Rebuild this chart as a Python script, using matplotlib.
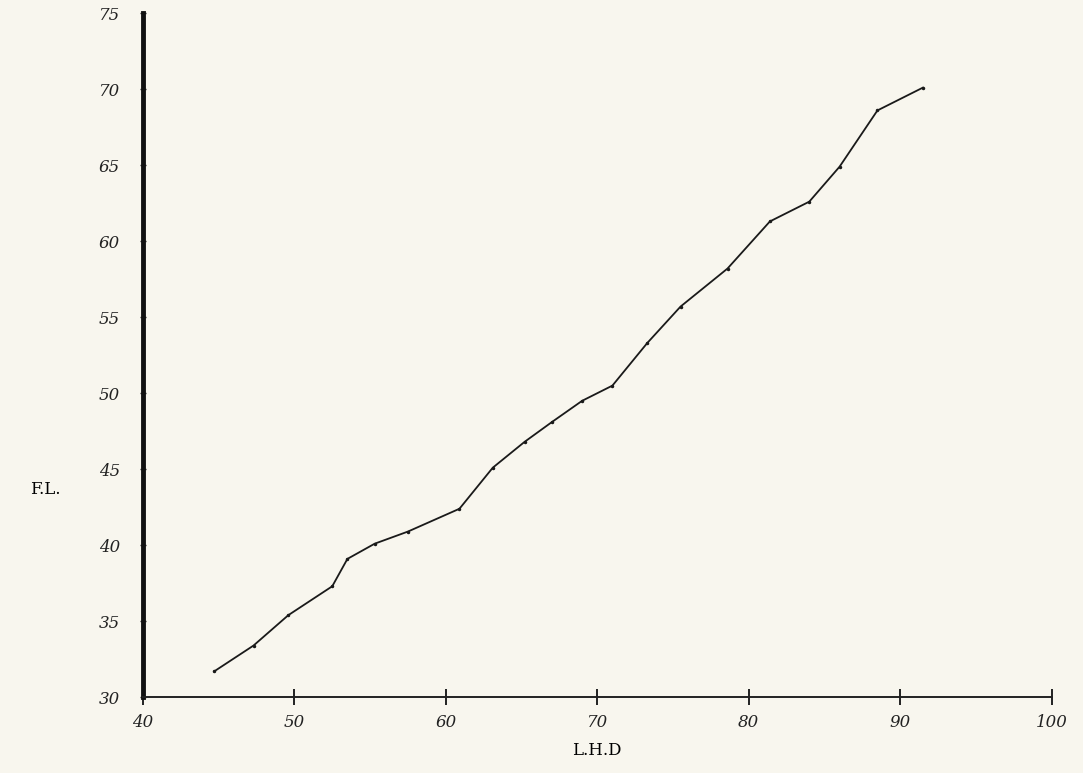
import matplotlib
matplotlib.use("Agg")
import matplotlib.pyplot as plt

lhd = [44.7, 47.3, 49.6, 52.5, 53.5, 55.3, 57.5, 60.9, 63.1, 65.2, 67.0, 69.0, 71.0, 73.3, 75.5, 78.6, 81.4, 84.0, 86.0, 88.5, 91.5]
fl = [31.7, 33.4, 35.4, 37.3, 39.1, 40.1, 40.9, 42.4, 45.1, 46.8, 48.1, 49.5, 50.5, 53.3, 55.7, 58.2, 61.3, 62.6, 64.9, 68.6, 70.1]

xticks = [40, 50, 60, 70, 80, 90, 100]
yticks = [30, 35, 40, 45, 50, 55, 60, 65, 70, 75]

bg = '#f8f6ee'
fig = plt.figure(figsize=(10.83, 7.73), dpi=100, facecolor=bg)
ax = fig.add_axes([0.132, 0.098, 0.839, 0.885], facecolor=bg)

ax.plot(lhd, fl, color='#1a1a1a', lw=1.3, marker='o', ms=1.5)

ax.set_xlim(40, 100)
ax.set_ylim(30, 75)
ax.set_xticks(xticks)
ax.set_yticks(yticks)

for s in ['top', 'right']:
    ax.spines[s].set_visible(False)
ax.spines['left'].set_linewidth(3.5)
ax.spines['left'].set_color('#111111')
ax.spines['bottom'].set_linewidth(1.4)
ax.spines['bottom'].set_color('#222222')

tick_font = dict(family='DejaVu Serif', style='italic', size=12)
ax.set_xticklabels([str(t) for t in xticks], **tick_font)
ax.set_yticklabels([str(t) for t in yticks], **tick_font)
ax.tick_params(axis='x', direction='inout', length=12, width=1.4, pad=6, colors='#222222')
ax.tick_params(axis='y', direction='inout', length=5, width=1, pad=14, colors='#222222')

ax.set_xlabel('L.H.D', family='DejaVu Serif', size=12, labelpad=8)
fig.text(0.028, 1 - 490/773, 'F.L.', family='DejaVu Serif', size=12, va='center', ha='left')

fig.savefig('out.png', dpi=100, facecolor=bg)
